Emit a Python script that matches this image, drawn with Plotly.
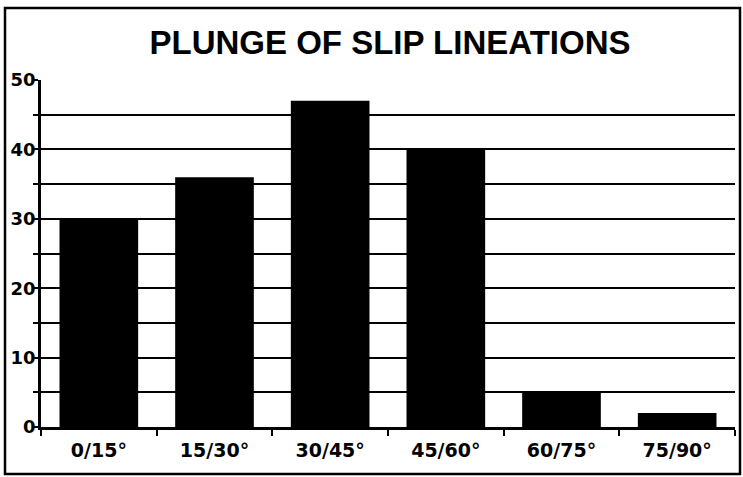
import plotly.graph_objects as go

categories = ["0/15°", "15/30°", "30/45°", "45/60°", "60/75°", "75/90°"]
counts = [30, 36, 47, 40, 5, 2]
y_ticks = [0, 10, 20, 30, 40, 50]
title_text = "PLUNGE OF SLIP LINEATIONS"

W, H = 743, 477
L, R, T, B = 41, 8, 80, 50

fig = go.Figure()
fig.add_trace(go.Bar(x=categories, y=counts, marker=dict(color="black", line=dict(width=0)),
                     width=0.68))

fig.update_layout(
    width=W, height=H,
    margin=dict(l=L, r=R, t=T, b=B, autoexpand=False),
    paper_bgcolor="white", plot_bgcolor="white",
    showlegend=False,
    title=dict(text=title_text, x=390 / W, xanchor="center", xref="container",
               y=1 - 42 / H, yanchor="middle", yref="container",
               font=dict(family="Liberation Sans", size=33, color="black", weight="bold")),
    xaxis=dict(
        type="category", tickson="boundaries", ticks="outside", ticklen=6, tickwidth=2,
        tickcolor="black", showline=True, linecolor="black", linewidth=2.5,
        showgrid=False, automargin=False, ticklabelstandoff=4,
        tickfont=dict(family="DejaVu Sans", size=19, color="black", weight="bold"),
        range=[-0.5, 5.5], fixedrange=True,
    ),
    yaxis=dict(
        range=[0, 50], tickvals=y_ticks, ticks="outside", ticklen=5, tickwidth=2,
        tickcolor="black", showline=True, linecolor="black", linewidth=2.5,
        showgrid=True, gridcolor="black", gridwidth=2.3, zeroline=False, automargin=False,
        ticklabelstandoff=-6,
        tickfont=dict(family="DejaVu Sans", size=18, color="black", weight="bold"),
        minor=dict(dtick=5, tick0=0, showgrid=True, gridcolor="black", gridwidth=2.3,
                   ticks="outside", ticklen=5, tickwidth=2, tickcolor="black"),
        fixedrange=True,
    ),
)

# outer frame around the whole chart
pw = W - L - R
ph = H - T - B
def px_x(p):
    return (p - L) / pw
def px_y(p):
    return (H - B - p) / ph

fig.add_shape(type="rect", xref="paper", yref="paper",
              x0=px_x(5), x1=px_x(740), y0=px_y(474), y1=px_y(8),
              line=dict(color="black", width=2.5), fillcolor="rgba(0,0,0,0)", layer="above")

fig.write_html("out.html", config={"displayModeBar": False},
               post_script="document.body.style.margin='0';")
